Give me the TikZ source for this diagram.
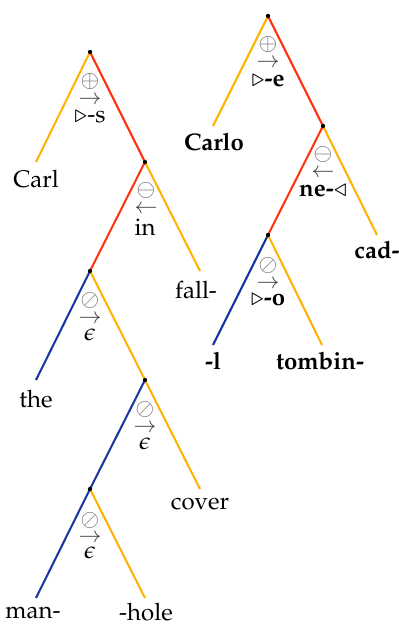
\documentclass[tikz,border=0pt]{standalone}
\usepackage[T1]{fontenc}
\usepackage{mathpazo}
\usetikzlibrary{calc}
\DeclareSymbolFont{cmsyfont}{OMS}{cmsy}{m}{n}
\DeclareMathSymbol{\cmoplus}{\mathbin}{cmsyfont}{"08}
\DeclareMathSymbol{\cmominus}{\mathbin}{cmsyfont}{"09}
\DeclareMathSymbol{\cmoslash}{\mathbin}{cmsyfont}{"0B}
\DeclareMathSymbol{\cmrarr}{\mathrel}{cmsyfont}{"21}
\DeclareMathSymbol{\cmlarr}{\mathrel}{cmsyfont}{"20}
\definecolor{orng}{HTML}{FFB300}
\definecolor{rd}{HTML}{FF3311}
\definecolor{blu}{HTML}{1B35A0}
\tikzset{
  edge/.style={line width=0.85pt},
  leaf/.style={inner sep=0pt, anchor=base},
  opsym/.style={inner sep=0pt, anchor=base, text=black!60, scale=1.0},
  arr/.style={inner sep=0pt, anchor=base, text=black!75, scale=0.95},
  lab/.style={inner sep=0pt, anchor=base},
  dot/.style={circle, fill=black, inner sep=0pt, minimum size=1.8pt}
}
\begin{document}
\begin{tikzpicture}[x=0.41667pt,y=-0.41667pt]
\useasboundingbox (0,0) rectangle (398,624);
% left tree coordinates
\coordinate (r1) at (90,52);
\coordinate (carlE) at (36,162);
\coordinate (n2) at (145,162);
\coordinate (fallE) at (200,271);
\coordinate (n3) at (90,271);
\coordinate (theE) at (36,380);
\coordinate (n4) at (145,380);
\coordinate (coverE) at (200,489);
\coordinate (n5) at (90,489);
\coordinate (manE) at (36,598);
\coordinate (holeE) at (145,598);
% right tree coordinates
\coordinate (rA) at (268,16);
\coordinate (carloE) at (213,126);
\coordinate (nB) at (323,126);
\coordinate (cadE) at (377,235);
\coordinate (nC) at (268,235);
\coordinate (lE) at (213,345);
\coordinate (tombE) at (322,345);
% left edges
\draw[edge, orng] (r1) -- (carlE);
\draw[edge, rd] (r1) -- (n2);
\draw[edge, rd] (n2) -- (n3);
\draw[edge, orng] (n2) -- (fallE);
\draw[edge, blu] (n3) -- (theE);
\draw[edge, orng] (n3) -- (n4);
\draw[edge, blu] (n4) -- (n5);
\draw[edge, orng] (n4) -- (coverE);
\draw[edge, blu] (n5) -- (manE);
\draw[edge, orng] (n5) -- (holeE);
% right edges
\draw[edge, orng] (rA) -- (carloE);
\draw[edge, rd] (rA) -- (nB);
\draw[edge, rd] (nB) -- (nC);
\draw[edge, orng] (nB) -- (cadE);
\draw[edge, blu] (nC) -- (lE);
\draw[edge, orng] (nC) -- (tombE);
% dots
\foreach \p in {r1,n2,n3,n4,n5,rA,nB,nC} \node[dot] (d\p) at (\p) {};
% leaves
\node[leaf] (carl) at (36,188) {Carl};
\node[leaf] (fall) at (196,298) {fall-};
\node[leaf] (the) at (36,407) {the};
\node[leaf] (cover) at (200,509) {cover};
\node[leaf] (man) at (33,618) {man-};
\node[leaf] (hole) at (146,620) {-hole};
\node[leaf] (carlo) at (214,151) {\textbf{Carlo}};
\node[leaf] (cad) at (377,258) {\textbf{cad-}};
\node[leaf] (ell) at (213,369) {\textbf{-l}};
\node[leaf] (tombin) at (320,369) {\textbf{tombin-}};
% operation labels
\node[opsym] (r1op) at ($(r1)+(0,36)$) {$\cmoplus$};
\node[arr] (r1ar) at ($(r1)+(0,53)$) {$\cmrarr$};
\node[lab] (r1lab) at ($(r1)+(0,71)$) {$\triangleright$-s};
\node[opsym] (n2op) at ($(n2)+(1,35)$) {$\cmominus$};
\node[arr] (n2ar) at ($(n2)+(1,51)$) {$\cmlarr$};
\node[lab] (n2lab) at ($(n2)+(0,74)$) {in};
\node[opsym] (n3op) at ($(n3)+(0,35)$) {$\cmoslash$};
\node[arr] (n3ar) at ($(n3)+(0,52)$) {$\cmrarr$};
\node[lab] (n3lab) at ($(n3)+(0,69)$) {$\epsilon$};
\node[opsym] (n4op) at ($(n4)+(0,35)$) {$\cmoslash$};
\node[arr] (n4ar) at ($(n4)+(0,52)$) {$\cmrarr$};
\node[lab] (n4lab) at ($(n4)+(0,69)$) {$\epsilon$};
\node[opsym] (n5op) at ($(n5)+(0,37)$) {$\cmoslash$};
\node[arr] (n5ar) at ($(n5)+(0,53)$) {$\cmrarr$};
\node[lab] (n5lab) at ($(n5)+(0,69)$) {$\epsilon$};
\node[opsym] (rAop) at ($(rA)+(0,35)$) {$\cmoplus$};
\node[arr] (rAar) at ($(rA)+(0,52)$) {$\cmrarr$};
\node[lab] (rAlab) at ($(rA)+(0,71)$) {$\triangleright$\textbf{-e}};
\node[opsym] (nBop) at ($(nB)+(0,35)$) {$\cmominus$};
\node[arr] (nBar) at ($(nB)+(0,52)$) {$\cmlarr$};
\node[lab] (nBlab) at ($(nB)+(0,70)$) {\textbf{ne-}$\triangleleft$};
\node[opsym] (nCop) at ($(nC)+(0,36)$) {$\cmoslash$};
\node[arr] (nCar) at ($(nC)+(0,53)$) {$\cmrarr$};
\node[lab] (nClab) at ($(nC)+(0,70)$) {$\triangleright$\textbf{-o}};
\end{tikzpicture}
\end{document}
